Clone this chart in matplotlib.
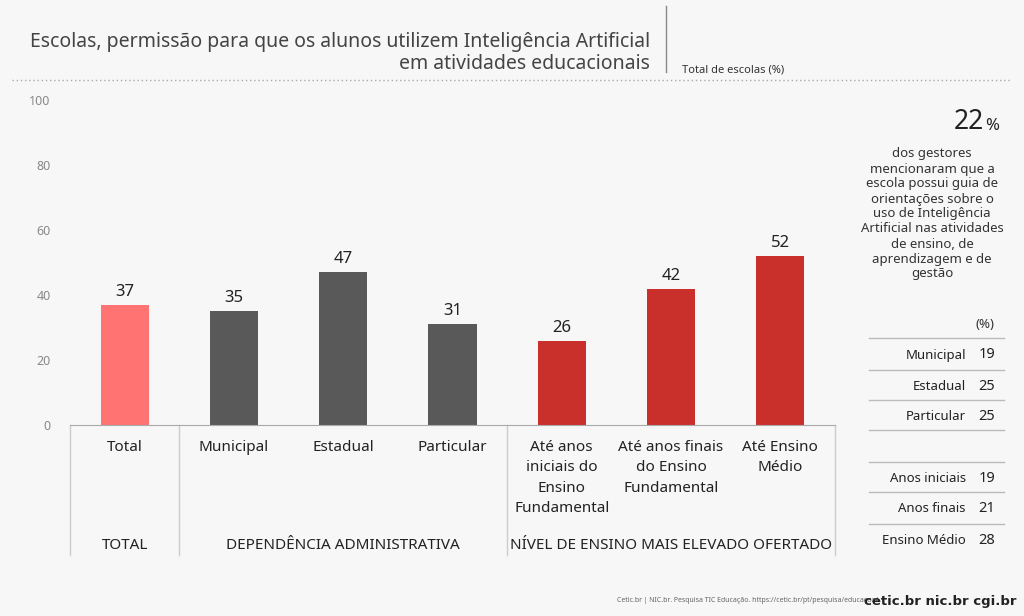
import matplotlib.pyplot as plt
from matplotlib.lines import Line2D

categories = ["Total", "Municipal", "Estadual", "Particular",
              "Até anos\niniciais do\nEnsino\nFundamental",
              "Até anos finais\ndo Ensino\nFundamental", "Até Ensino\nMédio"]
values = [37, 35, 47, 31, 26, 42, 52]
bar_colors = ["#ff7373", "#595959", "#595959", "#595959", "#c9302c", "#c9302c", "#c9302c"]
groups = [("TOTAL", 0, 0), ("DEPENDÊNCIA ADMINISTRATIVA", 1, 3), ("NÍVEL DE ENSINO MAIS ELEVADO OFERTADO", 4, 6)]
side_labels = ["Municipal", "Estadual", "Particular", "", "Anos iniciais", "Anos finais", "Ensino Médio"]
side_values = ["19", "25", "25", "", "19", "21", "28"]

plt.rcParams['font.family'] = ['Noto Sans', 'DejaVu Sans']
bg = "#f7f7f7"
fig = plt.figure(figsize=(10.24, 6.16), dpi=100, facecolor=bg)
ax = fig.add_axes([70/1024, 1-425/616, 765/1024, 325/616], facecolor=bg)

x = range(len(values))
ax.bar(x, values, width=0.44, color=bar_colors)
for i, v in enumerate(values):
    ax.text(i, v + 1.5, str(v), ha="center", va="bottom", fontsize=12, color="#222222")
ax.set_xlim(-0.5, 6.5)
ax.set_ylim(0, 100)
ax.set_yticks([0, 20, 40, 60, 80, 100])
ax.tick_params(axis="y", length=0, labelsize=9, labelcolor="#888888", pad=14)
ax.set_xticks([])
for s in ["top", "right", "left"]:
    ax.spines[s].set_visible(False)
ax.spines["bottom"].set_color("#aaaaaa")

trans = ax.get_xaxis_transform()
for i, c in enumerate(categories):
    ax.text(i, -0.045, c, ha="center", va="top", fontsize=11, color="#222222",
            transform=trans, linespacing=1.5)
for name, a, b in groups:
    ax.text((a + b) / 2, -0.37, name, ha="center", va="center", fontsize=11,
            color="#222222", transform=trans)
for xs in [-0.5, 0.5, 3.5, 6.5]:
    ax.add_line(Line2D([xs, xs], [0, -0.4], transform=trans, color="#cccccc",
                       lw=1, clip_on=False))

# title and header
fig.text(650/1024, 1-53/616, "Escolas, permissão para que os alunos utilizem Inteligência Artificial\nem atividades educacionais",
         ha="right", va="center", fontsize=14, color="#444444", linespacing=1.15)
fig.add_artist(Line2D([666/1024, 666/1024], [1-6/616, 1-72/616], color="#888888", lw=1))
fig.text(682/1024, 1-70/616, "Total de escolas (%)", fontsize=8, color="#333333", va="center")
fig.add_artist(Line2D([12/1024, 1012/1024], [1-80/616, 1-80/616], color="#aaaaaa", lw=1, ls=(0, (1, 2))))

# side panel
fig.text(984/1024, 1-122/616, "22", ha="right", va="center", fontsize=19, color="#222222")
fig.text(985/1024, 1-126/616, "%", ha="left", va="center", fontsize=12, color="#222222")
fig.text(932/1024, 1-214/616,
         "dos gestores\nmencionaram que a\nescola possui guia de\norientações sobre o\nuso de Inteligência\nArtificial nas atividades\nde ensino, de\naprendizagem e de\ngestão",
         ha="center", va="center", fontsize=9.5, color="#333333", linespacing=1.2)
fig.text(995/1024, 1-324/616, "(%)", ha="right", va="center", fontsize=9.5, color="#333333")
row_y = [355, 386, 417, 448, 478, 509, 540]
for lab, val, yy in zip(side_labels, side_values, row_y):
    fig.text(966/1024, 1-yy/616, lab, ha="right", va="center", fontsize=9.5, color="#222222")
    fig.text(995/1024, 1-yy/616, val, ha="right", va="center", fontsize=10.5, color="#222222")
for yy in [338, 370, 400, 430, 462, 492, 524]:
    fig.add_artist(Line2D([869/1024, 1004/1024], [1-yy/616, 1-yy/616], color="#bbbbbb", lw=1))

fig.text(878/1024, 1-601/616, "Cetic.br | NIC.br. Pesquisa TIC Educação. https://cetic.br/pt/pesquisa/educacao/",
         ha="right", va="center", fontsize=5, color="#666666")
fig.text(1016/1024, 1-601/616, "cetic.br nic.br cgi.br", ha="right", va="center",
         fontsize=9.5, fontweight="bold", color="#222222", family="DejaVu Sans Condensed")

fig.savefig("out.png", dpi=100, facecolor=bg)
